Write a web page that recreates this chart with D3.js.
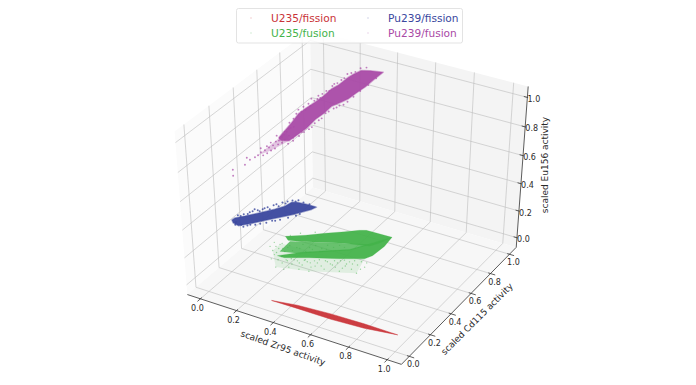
<!DOCTYPE html>
<html>
<head>
<meta charset="utf-8">
<script src="https://d3js.org/d3.v7.min.js"></script>
<style>
body { margin: 0; background: #fff; }
text { font-family: "DejaVu Sans", sans-serif; fill: #2a2a2a; }
</style>
</head>
<body>
<div id="chart"></div>
<script>
var tickValues = [0, 0.2, 0.4, 0.6, 0.8, 1];
var tickLabels = ["0.0", "0.2", "0.4", "0.6", "0.8", "1.0"];
var seriesNames = ["U235/fission", "U235/fusion", "Pu239/fission", "Pu239/fusion"];
var seriesColors = ["#c93338", "#44b34b", "#3a479e", "#a94aa6"];

// dense part of each cloud: [Zr95, Cd115, Eu156]
var u235FissionCore = [[0.34,0.012,0],[0.464,0.037,0],[0.634,0.052,0],[0.806,0.057,0],[0.982,0.055,0],[0.824,0.026,0],[0.657,0.014,0],[0.477,0.014,0]];

var u235FusionUpper = [[0.165,0.424,0.1],[0.242,0.479,0.1],[0.314,0.542,0.1],[0.388,0.6,0.1],[0.442,0.647,0.1],[0.471,0.663,0.1],[0.608,0.669,0.1],[0.583,0.592,0.1],[0.556,0.545,0.1],[0.44,0.51,0.1],[0.335,0.459,0.1],[0.249,0.419,0.1],[0.195,0.399,0.1]];
var u235FusionLower = [[0.223,0.257,0.1],[0.299,0.333,0.1],[0.411,0.418,0.1],[0.488,0.473,0.1],[0.55,0.573,0.1],[0.608,0.669,0.1],[0.617,0.579,0.1],[0.609,0.48,0.1],[0.591,0.437,0.1],[0.489,0.379,0.1],[0.362,0.316,0.1],[0.261,0.258,0.1]];
var u235FusionMiddle = [[0.208,0.396,0.1],[0.44,0.51,0.1],[0.555,0.565,0.1],[0.493,0.466,0.1],[0.304,0.325,0.1],[0.213,0.294,0.1]];
var u235FusionHaze = [[0.18,0.285,0.1],[0.181,0.359,0.1],[0.489,0.379,0.1],[0.591,0.437,0.1],[0.621,0.309,0.1],[0.421,0.214,0.1],[0.269,0.168,0.1]];
var u235FusionPoints = [[0.18,0.285,0.1],[0.174,0.324,0.1],[0.181,0.349,0.1],[0.212,0.324,0.1],[0.206,0.258,0.1],[0.245,0.228,0.1],[0.276,0.214,0.1],[0.269,0.168,0.1],[0.287,0.242,0.1],[0.32,0.229,0.1],[0.328,0.265,0.1],[0.322,0.198,0.1],[0.366,0.245,0.1],[0.372,0.281,0.1],[0.411,0.25,0.1],[0.418,0.296,0.1],[0.447,0.282,0.1],[0.453,0.328,0.1],[0.488,0.315,0.1],[0.499,0.343,0.1],[0.542,0.315,0.1],[0.54,0.356,0.1],[0.583,0.328,0.1],[0.621,0.309,0.1],[0.589,0.374,0.1],[0.591,0.407,0.1],[0.543,0.379,0.1],[0.473,0.265,0.1],[0.372,0.206,0.1],[0.397,0.305,0.1],[0.31,0.265,0.1],[0.353,0.286,0.1],[0.478,0.352,0.1],[0.515,0.38,0.1],[0.559,0.399,0.1],[0.421,0.214,0.1],[0.543,0.285,0.1],[0.627,0.374,0.1],[0.311,0.171,0.1],[0.213,0.219,0.1],[0.226,0.364,0.1],[0.264,0.365,0.1],[0.275,0.403,0.1],[0.316,0.395,0.1],[0.332,0.425,0.1],[0.37,0.416,0.1],[0.38,0.454,0.1],[0.414,0.452,0.1],[0.429,0.482,0.1],[0.458,0.478,0.1],
[0.244,0.259,0.1],[0.278,0.246,0.1],[0.294,0.266,0.1],[0.345,0.254,0.1],[0.355,0.291,0.1],[0.389,0.28,0.1],[0.423,0.267,0.1],[0.412,0.324,0.1],[0.441,0.331,0.1],[0.475,0.319,0.1],[0.509,0.306,0.1],[0.502,0.366,0.1],[0.544,0.338,0.1],[0.564,0.37,0.1],[0.619,0.349,0.1],[0.617,0.411,0.1],[0.15,0.31,0.1],[0.148,0.351,0.1],[0.195,0.315,0.1],[0.185,0.362,0.1],[0.234,0.306,0.1],[0.205,0.279,0.1],[0.227,0.344,0.1],[0.261,0.331,0.1],[0.281,0.364,0.1],[0.319,0.355,0.1],[0.337,0.386,0.1],[0.376,0.388,0.1],[0.394,0.419,0.1],[0.436,0.432,0.1],[0.181,0.443,0.1],[0.213,0.483,0.1],[0.269,0.526,0.1]];

var pu239FissionCore = [[0.277,0.528,0.288],[0.244,0.492,0.32],[0.212,0.457,0.346],[0.196,0.439,0.352],[0.173,0.414,0.331],[0.14,0.378,0.322],[0.085,0.317,0.313],[0.042,0.27,0.307],[0.01,0.235,0.305],[0,0.224,0.294],[0.003,0.228,0.272],[0.02,0.246,0.245],[0.065,0.295,0.247],[0.117,0.353,0.253],[0.196,0.439,0.261],[0.261,0.51,0.277]];
var pu239FissionPoints = [[0.02,0.246,0.322],[0.039,0.267,0.322],[0.059,0.288,0.329],[0.075,0.306,0.345],[0.091,0.324,0.325],[0.107,0.342,0.34],[0.124,0.36,0.328],[0.137,0.374,0.351],[0.153,0.392,0.338],[0.166,0.406,0.362],[0.183,0.424,0.363],[0.199,0.442,0.364],[0.218,0.464,0.358],[0.235,0.481,0.338],[0.254,0.503,0.317],[0.01,0.235,0.256],[0.036,0.263,0.232],[0.075,0.306,0.233],[0.14,0.378,0.238],[0.222,0.467,0.258],
[0.013,0.238,0.275],[0.029,0.256,0.249],[0.049,0.278,0.235],[0.059,0.288,0.238],[0.091,0.324,0.234],[0.111,0.346,0.234],[0.13,0.367,0.241],[0.156,0.396,0.239],[0.183,0.424,0.244],[0.209,0.453,0.249],[0.029,0.256,0.312],[0.052,0.281,0.318],[0.068,0.299,0.333],[0.085,0.317,0.334],[0.101,0.335,0.336],[0.117,0.353,0.344],[0.146,0.385,0.355],[0.176,0.417,0.351],[0.209,0.453,0.354]];

var pu239FusionCore = [[0.366,0.999,0.971],[0.329,0.942,1.002],[0.304,0.903,1.018],[0.282,0.868,1.006],[0.268,0.846,0.994],[0.24,0.803,0.957],[0.22,0.772,0.942],[0.198,0.737,0.907],[0.175,0.702,0.88],[0.15,0.663,0.855],[0.128,0.628,0.828],[0.108,0.598,0.778],[0.091,0.571,0.74],[0.072,0.541,0.697],[0.077,0.55,0.672],[0.1,0.585,0.657],[0.119,0.615,0.679],[0.15,0.663,0.715],[0.175,0.702,0.761],[0.198,0.737,0.788],[0.22,0.772,0.823],[0.245,0.811,0.834],[0.268,0.846,0.847],[0.29,0.881,0.874],[0.315,0.92,0.9],[0.338,0.955,0.934]];
var pu239FusionTail = [[0.013,0.449,0.611],[0.094,0.576,0.724],[0.1,0.585,0.657],[0.049,0.506,0.621]];
var pu239FusionPoints = [[0.006,0.245,0.64],[0.006,0.245,0.598],[0.039,0.297,0.653],[0.045,0.306,0.698],[0.053,0.319,0.679],[0.004,0.436,0.602],[0.013,0.449,0.611],[0.021,0.462,0.626],[0.027,0.471,0.601],[0.032,0.48,0.633],[0.038,0.489,0.608],[0.044,0.497,0.646],[0.049,0.506,0.621],[0.055,0.515,0.653],[0.06,0.523,0.628],[0.063,0.528,0.674],[0.069,0.537,0.651],[0.074,0.545,0.688],[0.08,0.554,0.656],[0.086,0.563,0.708],[0.088,0.567,0.672],[0.094,0.576,0.724],[0.1,0.585,0.692],[0.105,0.593,0.744],[0.066,0.532,0.714],[0.049,0.506,0.676],[0.038,0.489,0.657],[0.021,0.462,0.654],[0.097,0.58,0.639],[0.111,0.602,0.65],[0.128,0.628,0.856],[0.142,0.65,0.867],[0.156,0.672,0.879],[0.164,0.685,0.909],[0.184,0.715,0.917],[0.189,0.724,0.899],[0.206,0.75,0.937],[0.228,0.785,0.971],[0.248,0.816,0.986],[0.265,0.842,1.017],[0.287,0.877,1.018],[0.29,0.92,1.018],[0.31,0.94,1.018],[0.128,0.628,0.674],[0.142,0.65,0.692],[0.164,0.685,0.713],[0.184,0.715,0.749],[0.212,0.759,0.793],[0.234,0.794,0.806],[0.254,0.824,0.814],
[0.08,0.554,0.698],[0.072,0.541,0.676],[0.088,0.567,0.728],[0.1,0.585,0.741],[0.114,0.606,0.746],[0.114,0.606,0.802],[0.102,0.589,0.781],[0.122,0.619,0.831],[0.136,0.641,0.836],[0.147,0.659,0.843],[0.161,0.68,0.861],[0.172,0.698,0.889],[0.181,0.711,0.897],[0.195,0.733,0.923],[0.214,0.763,0.931],[0.223,0.776,0.961],[0.237,0.798,0.972],[0.256,0.829,0.994],[0.276,0.859,1.017],[0.111,0.602,0.671],[0.136,0.641,0.696],[0.156,0.672,0.704],[0.172,0.698,0.735],[0.192,0.728,0.757],[0.203,0.746,0.785],[0.226,0.781,0.805],[0.242,0.807,0.815],[0.265,0.842,0.828],[0.282,0.868,0.852],[0.301,0.898,0.881],[0.324,0.933,0.908],[0.346,0.968,0.942]];

var width = 696, height = 385;
var svg = d3.select("#chart").append("svg")
    .attr("width", width)
    .attr("height", height)
    .style("display", "block");

// data values to a unit cube
var x_scale = d3.scaleLinear().domain([-0.073, 1.073]).range([0, 1]);
var y_scale = d3.scaleLinear().domain([-0.073, 1.073]).range([0, 1]);
var z_scale = d3.scaleLinear().domain([-0.073, 1.073]).range([0, 1]);

// camera: elevation 38, azimuth -60
var elev = 38 * Math.PI / 180, azim = -60 * Math.PI / 180, dist = 8.5;
var cam_w = [Math.cos(elev) * Math.cos(azim), Math.cos(elev) * Math.sin(azim), Math.sin(elev)];
var cam_u = [-Math.sin(azim), Math.cos(azim), 0];
var cam_v = [-Math.sin(elev) * Math.cos(azim), -Math.sin(elev) * Math.sin(azim), Math.cos(elev)];
var centerX = 354.5, centerY = 192.5, scaleX = 2120, scaleY = 1745;

function dot3(a, b) { return a[0] * b[0] + a[1] * b[1] + a[2] * b[2]; }

function project(d) {
    var p = [x_scale(d[0]) - 0.5, y_scale(d[1]) - 0.5, z_scale(d[2]) - 0.5];
    var depth = dist - dot3(p, cam_w);
    return [centerX + scaleX * dot3(p, cam_u) / depth, centerY - scaleY * dot3(p, cam_v) / depth];
}

var lo = x_scale.domain()[0], hi = x_scale.domain()[1];
var line3d = d3.line().x(function(d) { return project(d)[0]; }).y(function(d) { return project(d)[1]; });
var closed3d = d3.line().x(function(d) { return project(d)[0]; }).y(function(d) { return project(d)[1]; }).curve(d3.curveLinearClosed);

// panes
var panes = [
    {color: "#fbfbfb", pts: [[lo,lo,lo],[lo,hi,lo],[lo,hi,hi],[lo,lo,hi]]},
    {color: "#f4f4f4", pts: [[lo,hi,lo],[hi,hi,lo],[hi,hi,hi],[lo,hi,hi]]},
    {color: "#f7f7f7", pts: [[lo,lo,lo],[hi,lo,lo],[hi,hi,lo],[lo,hi,lo]]}
];
svg.append("g").selectAll("path").data(panes).join("path")
    .attr("d", function(d) { return closed3d(d.pts); })
    .attr("fill", function(d) { return d.color; });

// grid
var grid = svg.append("g").attr("fill", "none").attr("stroke", "#bcbcbc").attr("stroke-width", 0.6);
tickValues.forEach(function(t) {
    grid.append("path").attr("d", line3d([[t,lo,lo],[t,hi,lo],[t,hi,hi]]));
    grid.append("path").attr("d", line3d([[hi,t,lo],[lo,t,lo],[lo,t,hi]]));
    grid.append("path").attr("d", line3d([[lo,lo,t],[lo,hi,t],[hi,hi,t]]));
});

// axes
var axes = svg.append("g").attr("fill", "none").attr("stroke", "#333").attr("stroke-width", 0.8);
axes.append("path").attr("d", line3d([[lo,lo,lo],[hi,lo,lo]]));
axes.append("path").attr("d", line3d([[hi,lo,lo],[hi,hi,lo]]));
axes.append("path").attr("d", line3d([[hi,hi,lo],[hi,hi,hi]]));
tickValues.forEach(function(t) {
    axes.append("path").attr("d", line3d([[t,lo+0.012,lo],[t,lo-0.025,lo]]));
    axes.append("path").attr("d", line3d([[hi-0.012,t,lo],[hi+0.025,t,lo]]));
    axes.append("path").attr("d", line3d([[hi-0.018,hi,t],[hi+0.004,hi,t]]));
});

var tickText = svg.append("g").attr("font-size", 8).attr("text-anchor", "middle");
tickValues.forEach(function(t, i) {
    var a = project([t, lo, lo]), b = project([hi, t, lo]), c = project([hi, hi, t]);
    tickText.append("text").attr("x", a[0] - 3).attr("y", a[1] + 12).text(tickLabels[i]);
    tickText.append("text").attr("x", b[0] + 4).attr("y", b[1] + 11).text(tickLabels[i]);
    tickText.append("text").attr("x", c[0] + 6.5).attr("y", c[1] + 4.5).text(tickLabels[i]);
});

function axisLabel(txt, x, y, angle) {
    svg.append("text")
        .attr("transform", "translate(" + x + "," + y + ") rotate(" + angle + ")")
        .attr("text-anchor", "middle")
        .attr("dominant-baseline", "central")
        .attr("font-size", 9)
        .text(txt);
}
axisLabel("scaled Zr95 activity", 283, 348, 19.5);
axisLabel("scaled Cd115 activity", 477, 319, -45);
axisLabel("scaled Eu156 activity", 545, 165, -90);

// clouds
var clouds = svg.append("g").style("filter", "blur(0.4px)");
function hull(pts, color, alpha, edge) {
    clouds.append("path").attr("d", closed3d(pts))
        .attr("fill", color).attr("fill-opacity", alpha)
        .attr("stroke", color).attr("stroke-opacity", 0.45).attr("stroke-width", edge)
        .attr("stroke-linejoin", "round");
}
function dots(pts, color, alpha, r) {
    clouds.append("g").selectAll("circle").data(pts).join("circle")
        .attr("cx", function(d) { return project(d)[0]; })
        .attr("cy", function(d) { return project(d)[1]; })
        .attr("r", r)
        .attr("fill", color)
        .attr("fill-opacity", alpha);
}
hull(u235FissionCore, seriesColors[0], 0.95, 1);
hull(u235FusionHaze, seriesColors[1], 0.13, 0);
hull(u235FusionMiddle, seriesColors[1], 0.8, 0);
hull(u235FusionUpper, seriesColors[1], 0.95, 0.5);
hull(u235FusionLower, seriesColors[1], 0.95, 0.5);
dots(u235FusionPoints, seriesColors[1], 0.5, 0.7);
hull(pu239FissionCore, seriesColors[2], 0.95, 1.5);
dots(pu239FissionPoints, seriesColors[2], 0.8, 1);
hull(pu239FusionTail, seriesColors[3], 0.3, 0);
hull(pu239FusionCore, seriesColors[3], 0.95, 1.5);
dots(pu239FusionPoints, seriesColors[3], 0.7, 0.95);

// legend
var legend = svg.append("g");
legend.append("rect").attr("x", 236.5).attr("y", 8.5).attr("width", 226).attr("height", 34.5).attr("rx", 2)
    .attr("fill", "#fff").attr("fill-opacity", 0.85).attr("stroke", "#dcdcdc").attr("stroke-width", 0.8);
var legendX = d3.scaleOrdinal().domain([0, 1]).range([251, 368]);
var legendY = d3.scaleOrdinal().domain([0, 1]).range([18, 33]);
seriesNames.forEach(function(name, i) {
    var col = Math.floor(i / 2), row = i % 2;
    legend.append("circle").attr("cx", legendX(col)).attr("cy", legendY(row)).attr("r", 0.8)
        .attr("fill", seriesColors[i]).attr("fill-opacity", 0.25);
    legend.append("text").attr("x", legendX(col) + 20).attr("y", legendY(row) + 3.5)
        .attr("font-size", 10.6).style("fill", seriesColors[i]).text(name);
});
</script>
</body>
</html>
